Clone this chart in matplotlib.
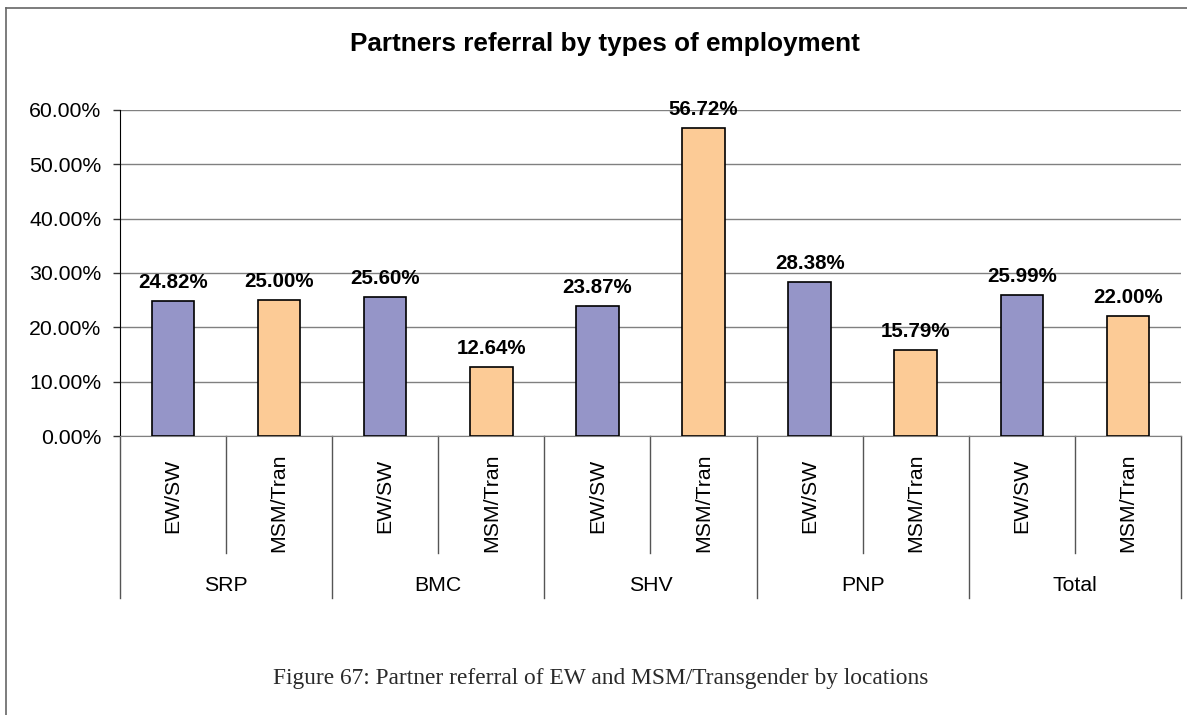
import numpy as np
import matplotlib.pyplot as plt
from matplotlib.lines import Line2D
from matplotlib.ticker import FuncFormatter
import matplotlib.transforms as mtransforms

plt.rcParams['font.family'] = ['Liberation Sans', 'DejaVu Sans']

locations = ['SRP', 'BMC', 'SHV', 'PNP', 'Total']
groups = ['EW/SW', 'MSM/Tran']
ew_sw = [24.82, 25.60, 23.87, 28.38, 25.99]
msm_tran = [25.00, 12.64, 56.72, 15.79, 22.00]
colors = ['#9595C8', '#FCCB96']

# interleave the two series so each location gets two adjacent bars
values = []
bar_colors = []
sub_labels = []
for a, b in zip(ew_sw, msm_tran):
    values += [a, b]
    bar_colors += colors
    sub_labels += groups
x = np.arange(len(values))

fig = plt.figure(figsize=(11.87, 7.15), dpi=100)
ax = fig.add_axes([0.1011, 0.3902, 0.8938, 0.4560])

bars = ax.bar(x, values, width=0.4, color=bar_colors, edgecolor='black', linewidth=1.2, zorder=3)
for b, v in zip(bars, values):
    ax.annotate(f'{v:.2f}%', (b.get_x() + b.get_width() / 2, v), xytext=(0, 9.5),
                textcoords='offset points', ha='center', va='baseline',
                fontsize=14.8, fontweight='bold', zorder=4)

ax.set_xlim(-0.5, len(values) - 0.5)
ax.set_ylim(0, 60)
ax.set_yticks(np.arange(0, 61, 10))
ax.yaxis.set_major_formatter(FuncFormatter(lambda v, p: f'{v:.2f}%'))
ax.tick_params(axis='y', labelsize=15.3, length=5, width=1, color='#333333', pad=8.5)
ax.set_xticks([])
ax.grid(axis='y', color='#808080', linewidth=1, zorder=0)

for s in ['top', 'right']:
    ax.spines[s].set_visible(False)
ax.spines['left'].set_color('black')
ax.spines['bottom'].set_color('#808080')

# category separators and labels under the axis
trans = mtransforms.blended_transform_factory(ax.transData, ax.transAxes)
for i in range(len(values) + 1):
    pos = i - 0.5
    depth = -0.497 if i % 2 == 0 else -0.359
    ax.add_line(Line2D([pos, pos], [0, depth], transform=trans, color='#555555',
                       linewidth=1, clip_on=False))
label_y = {'EW/SW': -0.184, 'MSM/Tran': -0.205}
for xi, lab in zip(x, sub_labels):
    ax.text(xi, label_y[lab], lab, transform=trans, rotation=90, ha='center', va='center',
            fontsize=15.3)
for i, loc in enumerate(locations):
    ax.text(2 * i + 0.5, -0.46, loc, transform=trans, ha='center', va='center', fontsize=15.3)

fig.text(0.510, 0.938, 'Partners referral by types of employment', ha='center', va='center',
         fontsize=18.8, fontweight='bold')
fig.text(0.506, 0.043, 'Figure 67: Partner referral of EW and MSM/Transgender by locations',
         ha='center', va='baseline', fontsize=16.8, family=['Liberation Serif'], color='#2a2a2a')

# outer chart frame (left and top edges)
fig.add_artist(Line2D([6 / 1187, 6 / 1187], [0, 1 - 8 / 715], transform=fig.transFigure,
                      color='#666666', linewidth=1.2))
fig.add_artist(Line2D([6 / 1187, 1], [1 - 8 / 715, 1 - 8 / 715], transform=fig.transFigure,
                      color='#666666', linewidth=1.2))

fig.savefig('out.png', dpi=100)
